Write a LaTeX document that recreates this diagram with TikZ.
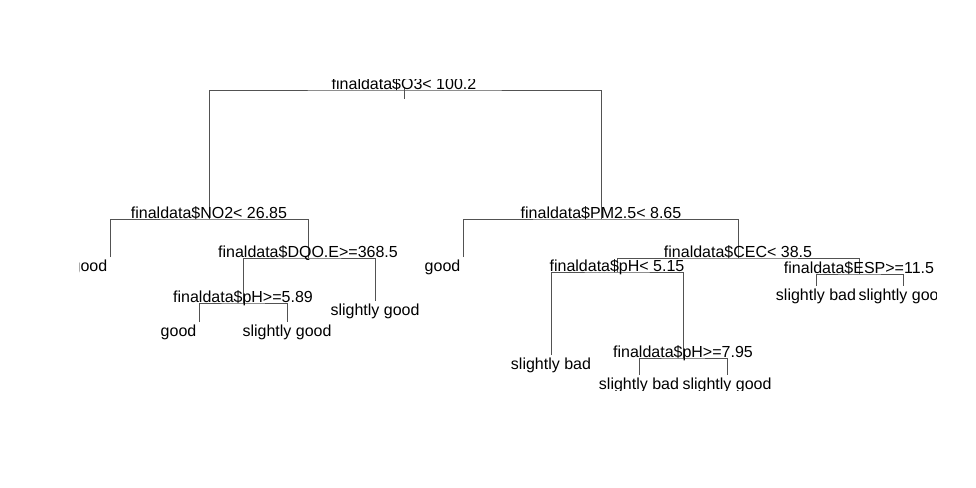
\documentclass[tikz,border=0pt]{standalone}
\usepackage{fontspec}
\setmainfont{Liberation Sans}
\begin{document}
\begin{tikzpicture}[x=1pt,y=-1pt,
  br/.style={draw=black!68, line width=0.9pt},
  lab/.style={inner sep=0pt, font=\fontsize{16}{19}\selectfont, text=black},
  split/.style={lab, anchor=base},
  leaf/.style={lab, anchor=base},
  leafr/.style={lab, anchor=base east}]
\useasboundingbox (0,0) rectangle (976,487);
\begin{scope}
\clip (79,79.5) rectangle (936,390);
% node positions
\coordinate (root) at (404,90);
\coordinate (rtA) at (404,87);
\coordinate (rtB) at (404,99);
\coordinate (no2) at (209,219);
\coordinate (g1) at (110,257);
\coordinate (dqo) at (308,258);
\coordinate (ph589) at (243,303);
\coordinate (g2) at (199,322);
\coordinate (sg1) at (287,322);
\coordinate (sg2) at (375,301);
\coordinate (pm) at (601,219);
\coordinate (g3) at (463,257);
\coordinate (cec) at (738,258);
\coordinate (ph515) at (617,272);
\coordinate (sb1) at (551,355);
\coordinate (ph795) at (683,358);
\coordinate (sb2) at (639,375);
\coordinate (sg3) at (727,375);
\coordinate (esp) at (859,274);
\coordinate (sb3) at (816,286);
\coordinate (sg4) at (903,286);
% branches
\draw[br] (rtA) -- (rtB);
\draw[br] (no2) |- (root) -| (pm);
\draw[br] (g1) |- (no2) -| (dqo);
\draw[br] (ph589) |- (dqo) -| (sg2);
\draw[br] (g2) |- (ph589) -| (sg1);
\draw[br] (g3) |- (pm) -| (cec);
\draw[br] (ph515) |- (cec) -| (esp);
\draw[br] (sb1) |- (ph515) -| (ph795);
\draw[br] (sb2) |- (ph795) -| (sg3);
\draw[br] (sb3) |- (esp) -| (sg4);
% split labels
\node[split] (Lroot) at ([yshift=1pt]root) {finaldata\$O3< 100.2};
\node[split] (Lno2) at ([yshift=1pt]no2) {finaldata\$NO2< 26.85};
\node[split] (Ldqo) at ([yshift=1pt]dqo) {finaldata\$DQO.E>=368.5};
\node[split] (Lph589) at ([yshift=1pt]ph589) {finaldata\$pH>=5.89};
\node[split] (Lpm) at ([yshift=1pt]pm) {finaldata\$PM2.5< 8.65};
\node[split] (Lcec) at ([yshift=1pt]cec) {finaldata\$CEC< 38.5};
\node[split] (Lph515) at ([yshift=1pt]ph515) {finaldata\$pH< 5.15};
\node[split] (Lph795) at ([yshift=1pt]ph795) {finaldata\$pH>=7.95};
\node[split] (Lesp) at ([yshift=1pt]esp) {finaldata\$ESP>=11.5};
% leaf labels
\node[leafr] (Lg1) at ([xshift=-2.5pt,yshift=-14pt]g1) {good};
\node[leafr] (Lg2) at ([xshift=-2.5pt,yshift=-14pt]g2) {good};
\node[leafr] (Lg3) at ([xshift=-2.5pt,yshift=-14pt]g3) {good};
\node[leaf] (Lsg1) at ([yshift=-14pt]sg1) {slightly good};
\node[leaf] (Lsg2) at ([yshift=-14pt]sg2) {slightly good};
\node[leaf] (Lsb1) at ([yshift=-14pt]sb1) {slightly bad};
\node[leaf] (Lsb2) at ([yshift=-14pt]sb2) {slightly bad};
\node[leaf] (Lsg3) at ([yshift=-14pt]sg3) {slightly good};
\node[leaf] (Lsb3) at ([yshift=-14pt]sb3) {slightly bad};
\node[leaf] (Lsg4) at ([yshift=-14pt]sg4) {slightly good};
\end{scope}
\end{tikzpicture}
\end{document}
